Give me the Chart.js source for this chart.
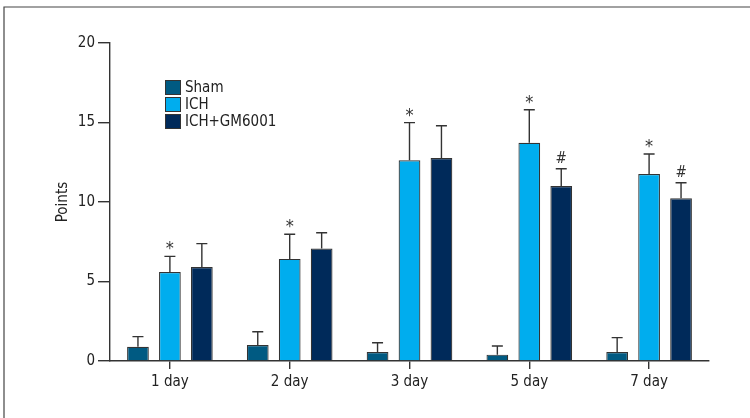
<!DOCTYPE html>
<html>
<head>
<meta charset="utf-8">
<script src="https://cdn.jsdelivr.net/npm/chart.js@4/dist/chart.umd.min.js"></script>
<style>
  html, body { margin: 0; padding: 0; background: #fff; }
  #wrap { width: 750px; height: 418px; position: relative; }
</style>
</head>
<body>
<div id="wrap"><canvas id="c" width="750" height="418"></canvas></div>
<script>
// Neurological score per group and day (mean ± SD)
const categories = ['1 day', '2 day', '3 day', '5 day', '7 day'];
const shamValues = [0.9, 1.0, 0.57, 0.4, 0.57];
const shamErrors = [0.63, 0.84, 0.58, 0.54, 0.9];
const ichValues  = [5.6, 6.42, 12.62, 13.73, 11.76];
const ichErrors  = [0.98, 1.55, 2.37, 2.07, 1.26];
const gmValues   = [5.91, 7.07, 12.77, 11.0, 10.23];
const gmErrors   = [1.47, 1.0, 2.03, 1.09, 0.98];
// Significance marks drawn above the error bars
const shamMarks = ['', '', '', '', ''];
const ichMarks  = ['*', '*', '*', '*', '*'];
const gmMarks   = ['', '', '', '#', '#'];
const yTicks = [0, 5, 10, 15, 20];

const FONT = "'Liberation Sans Narrow', 'DejaVu Sans Condensed', 'Arial Narrow', sans-serif";
const INK = '#333333';

const series = [
  { label: 'Sham',       data: shamValues, err: shamErrors, marks: shamMarks, color: '#005a82' },
  { label: 'ICH',        data: ichValues,  err: ichErrors,  marks: ichMarks,  color: '#00adee' },
  { label: 'ICH+GM6001', data: gmValues,   err: gmErrors,   marks: gmMarks,   color: '#002a5a' }
];

// Outer frame (top and left rules)
const framePlugin = {
  id: 'frame',
  beforeDraw(chart) {
    const ctx = chart.ctx;
    ctx.save();
    ctx.strokeStyle = '#444';
    ctx.lineWidth = 1.2;
    ctx.beginPath();
    ctx.moveTo(4, 418);
    ctx.lineTo(4, 7);
    ctx.lineTo(750, 7);
    ctx.stroke();
    ctx.restore();
  }
};

// Upward error bars with caps, plus significance marks
const errorBarPlugin = {
  id: 'errorBars',
  afterDatasetsDraw(chart) {
    const ctx = chart.ctx;
    const y = chart.scales.y;
    ctx.save();
    chart.data.datasets.forEach((ds, di) => {
      const meta = chart.getDatasetMeta(di);
      meta.data.forEach((bar, i) => {
        const top = y.getPixelForValue(ds.data[i] + ds.errors[i]);
        ctx.strokeStyle = INK;
        ctx.lineWidth = 1.4;
        ctx.beginPath();
        ctx.moveTo(bar.x, bar.y);
        ctx.lineTo(bar.x, top);
        ctx.moveTo(bar.x - 5.5, top);
        ctx.lineTo(bar.x + 5.5, top);
        ctx.stroke();
        const mark = ds.marks[i];
        if (mark) {
          ctx.fillStyle = INK;
          ctx.font = (mark === '*' ? '18px ' : '15px ') + FONT;
          ctx.textAlign = 'center';
          ctx.textBaseline = 'alphabetic';
          const m = ctx.measureText(mark);
          ctx.fillText(mark, bar.x, top - 6 - m.actualBoundingBoxDescent);
        }
      });
    });
    ctx.restore();
  }
};

// Legend block inside the plot
const legendPlugin = {
  id: 'insideLegend',
  afterDraw(chart) {
    const ctx = chart.ctx;
    ctx.save();
    chart.data.datasets.forEach((ds, i) => {
      const top = 80 + i * 17;
      ctx.fillStyle = ds.backgroundColor;
      ctx.fillRect(165, top, 16, 15);
      ctx.strokeStyle = INK;
      ctx.lineWidth = 1;
      ctx.strokeRect(165.5, top + 0.5, 15, 14);
      ctx.fillStyle = '#222';
      ctx.font = '15px ' + FONT;
      ctx.textAlign = 'left';
      ctx.textBaseline = 'middle';
      ctx.fillText(ds.label, 185, top + 8);
    });
    ctx.restore();
  }
};

new Chart(document.getElementById('c'), {
  type: 'bar',
  data: {
    labels: categories,
    datasets: series.map(s => ({
      label: s.label,
      data: s.data,
      errors: s.err,
      marks: s.marks,
      backgroundColor: s.color,
      borderColor: INK,
      borderWidth: 1.2,
      categoryPercentage: 0.8,
      barPercentage: 0.68
    }))
  },
  options: {
    responsive: false,
    animation: false,
    events: [],
    layout: { padding: { left: 0, right: 41, top: 43, bottom: 0 } },
    plugins: { legend: { display: false }, tooltip: { enabled: false } },
    scales: {
      x: {
        grid: { display: true, offset: false, drawOnChartArea: false, tickLength: 8, color: INK, lineWidth: 1.4 },
        border: { display: true, color: INK, width: 1.4 },
        ticks: { color: '#222', font: { family: FONT, size: 15 }, padding: 4 },
        afterFit(scale) { scale.height = 57; }
      },
      y: {
        min: 0,
        max: 20,
        afterBuildTicks(scale) { scale.ticks = yTicks.map(v => ({ value: v })); },
        grid: { display: true, drawOnChartArea: false, tickLength: 12, color: INK, lineWidth: 1.4 },
        border: { display: true, color: INK, width: 1.4 },
        ticks: { color: '#222', font: { family: FONT, size: 15 }, padding: 3 },
        title: { display: true, text: 'Points', color: '#222', font: { family: FONT, size: 15 }, padding: { top: 54, bottom: 0 } },
        afterFit(scale) { scale.width = 110; }
      }
    }
  },
  plugins: [framePlugin, errorBarPlugin, legendPlugin]
});
</script>
</body>
</html>
